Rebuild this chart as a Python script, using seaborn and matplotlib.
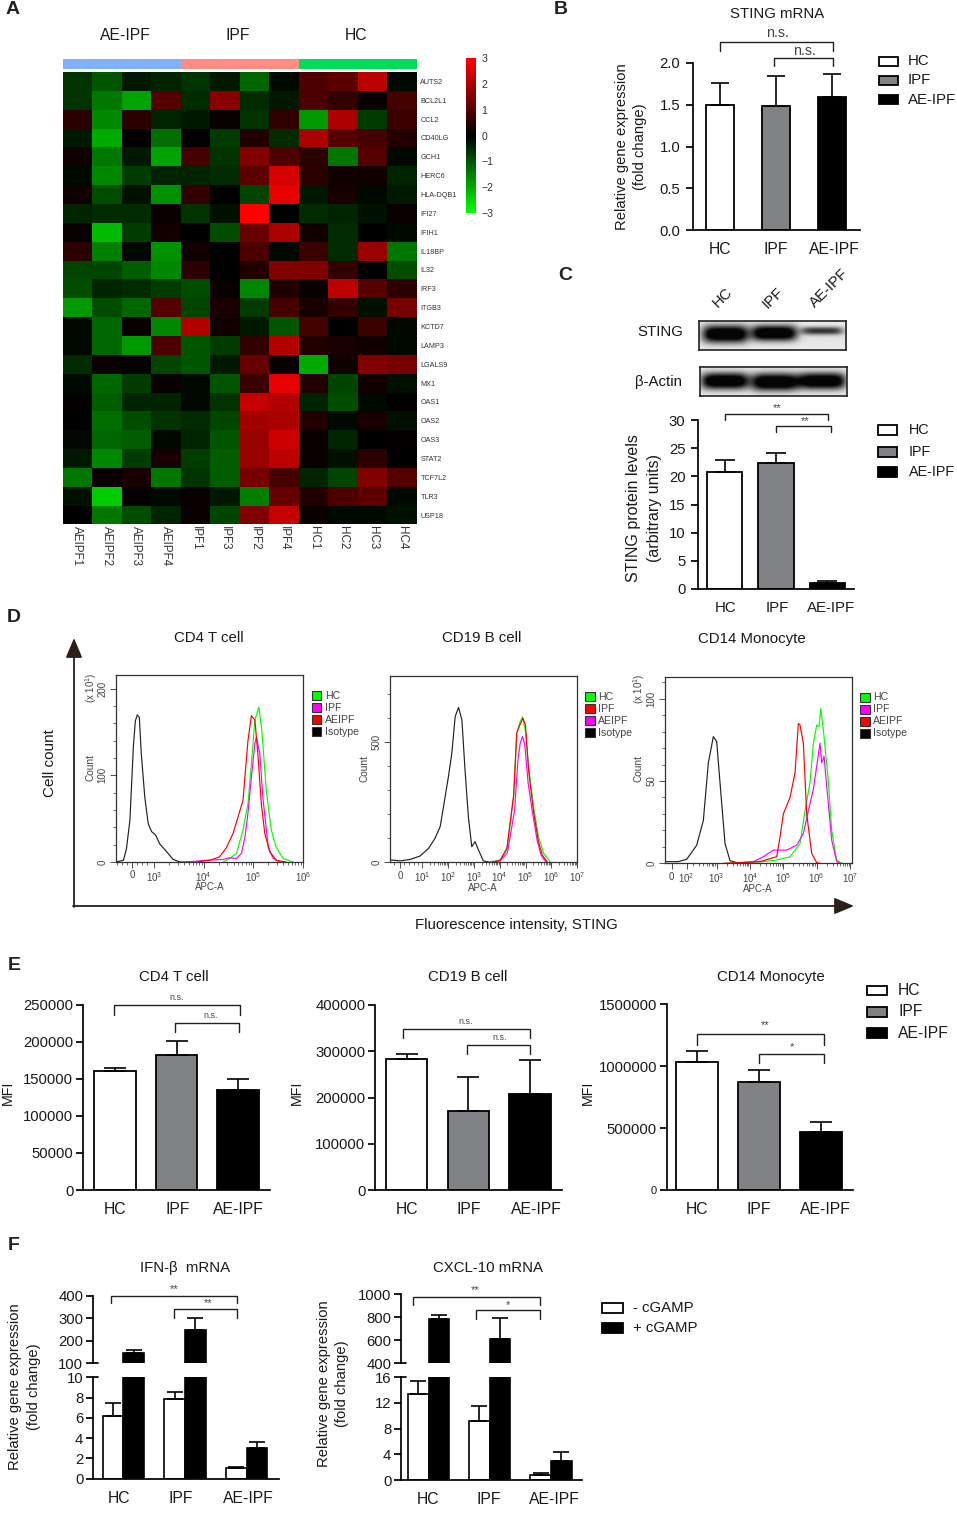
import numpy as np
import pandas as pd
import matplotlib
matplotlib.use("Agg")
import matplotlib.pyplot as plt
from matplotlib.colors import LinearSegmentedColormap, ListedColormap
from matplotlib.patches import Rectangle
from matplotlib.transforms import ScaledTranslation
import seaborn as sns

W, H = 957, 1514

# panel A
GENES = ["AUTS2", "BCL2L1", "CCL2", "CD40LG", "GCH1", "HERC6", "HLA-DQB1", "IFI27", "IFIH1", "IL18BP", "IL32", "IRF3",
         "ITGB3", "KCTD7", "LAMP3", "LGALS9", "MX1", "OAS1", "OAS2", "OAS3", "STAT2", "TCF7L2", "TLR3", "USP18"]
SAMPLES = ["AEIPF1", "AEIPF2", "AEIPF3", "AEIPF4", "IPF1", "IPF3", "IPF2", "IPF4", "HC1", "HC2", "HC3", "HC4"]
SAMPLE_GROUP = [0, 0, 0, 0, 1, 1, 1, 1, 2, 2, 2, 2]
EXPR = [
    [-0.6, -1.0, -0.3, -0.4, -0.6, -0.3, -1.2, -0.1, 0.9, 1.1, 2.2, -0.1],
    [-0.6, -1.4, -1.9, 1.0, -0.5, 1.6, -0.5, -0.3, 0.9, 0.6, 0.1, 0.8],
    [0.5, -1.6, 0.5, -0.4, -0.3, 0.1, -0.6, 0.6, -1.8, 2.0, -0.7, 0.7],
    [-0.3, -2.0, 0.0, -1.3, 0.0, -0.7, 0.4, -0.5, 2.0, 1.0, 0.8, 0.4],
    [0.2, -1.4, -0.3, -1.9, 0.8, -0.6, 1.5, 0.9, 0.5, -1.4, 1.0, -0.1],
    [-0.1, -1.6, -0.7, -0.4, -0.4, -0.5, 1.1, 2.5, 0.5, 0.2, 0.2, -0.4],
    [0.2, -0.9, -0.2, -1.7, 0.6, 0.0, -0.8, 2.7, -0.3, 0.3, -0.1, -0.3],
    [-0.4, -0.5, -0.5, 0.1, -0.6, -0.2, 3.0, 0.0, -0.5, -0.4, -0.2, 0.1],
    [0.1, -2.2, -0.7, 0.2, 0.0, -0.9, 1.2, 2.0, 0.2, -0.5, 0.0, -0.1],
    [0.5, -1.5, -0.1, -1.7, 0.2, 0.0, 0.9, -0.1, 0.7, -0.5, 1.8, -1.4],
    [-0.8, -0.8, -1.1, -1.6, 0.5, 0.0, 0.4, 1.5, 1.5, 0.6, 0.0, -0.9],
    [-0.9, -0.4, -0.5, -0.7, -0.9, 0.1, -1.6, 0.4, 0.1, 2.2, 1.0, 0.5],
    [-1.8, -0.9, -1.2, 1.0, -0.8, 0.3, -0.7, 0.8, 0.3, 0.6, -0.2, 1.4],
    [-0.1, -1.2, 0.1, -1.6, 2.1, 0.2, -0.3, -1.0, 0.8, 0.0, 0.7, -0.1],
    [-0.1, -1.2, -1.8, 0.9, -1.0, -0.7, 0.6, 2.1, 0.4, 0.3, 0.2, -0.1],
    [-0.5, 0.1, 0.05, -0.8, -1.0, -0.3, 1.2, 0.1, -2.0, 0.2, 1.5, 1.4],
    [-0.1, -1.2, -0.7, 0.1, -0.1, -1.0, 0.7, 2.7, 0.4, -0.8, 0.2, -0.2],
    [0.05, -1.1, -0.4, -0.4, -0.1, -0.6, 2.3, 2.1, -0.4, -0.9, -0.1, 0.0],
    [0.0, -1.3, -0.9, -0.6, -0.5, -0.8, 1.9, 2.0, 0.4, -0.1, 0.3, -0.2],
    [-0.1, -1.2, -1.1, -0.1, -0.4, -1.0, 1.8, 2.4, 0.1, -0.4, 0.0, 0.05],
    [-0.3, -1.6, -0.7, 0.3, -0.7, -1.1, 1.8, 2.2, 0.1, -0.2, 0.5, 0.0],
    [-1.4, 0.1, 0.3, -1.4, -0.6, -1.1, 1.4, 0.8, -0.4, -0.8, 1.5, 1.0],
    [-0.2, -2.4, 0.05, -0.1, 0.1, -0.3, -1.5, 1.2, 0.4, 0.9, 1.1, -0.1],
    [0.0, -1.4, -0.9, -0.4, 0.1, -0.8, 1.5, 2.3, 0.1, -0.1, -0.1, -0.2],
]

# bar panels B, C, E
GROUPS = ["HC", "IPF", "AE-IPF"]
STING_MRNA = [1.5, 1.48, 1.59]
STING_MRNA_TOP = [1.76, 1.84, 1.87]
STING_PROT = [20.7, 22.4, 1.06]
STING_PROT_TOP = [22.9, 24.2, 1.36]
MFI_CD4 = [160000, 182000, 135000]
MFI_CD4_TOP = [164000, 201000, 149000]
MFI_CD19 = [283000, 170000, 207000]
MFI_CD19_TOP = [294000, 245000, 281000]
MFI_CD14 = [1032000, 873000, 470000]
MFI_CD14_TOP = [1123000, 968000, 551000]

# panel F
IFNB_MINUS = [6.2, 7.85, 1.05]
IFNB_MINUS_TOP = [7.45, 8.55, 1.2]
IFNB_PLUS = [145, 248, 3.05]
IFNB_PLUS_TOP = [160, 300, 3.6]
CXCL_MINUS = [13.4, 9.2, 0.85]
CXCL_MINUS_TOP = [15.4, 11.5, 1.05]
CXCL_PLUS = [785, 615, 2.95]
CXCL_PLUS_TOP = [820, 795, 4.4]

# panel D, x is in decades of the display axis
CD4_ISO_X = [2.23, 2.38, 2.44, 2.51, 2.58, 2.62, 2.66, 2.70, 2.74, 2.81, 2.88, 2.95, 3.03, 3.11, 3.25, 3.38, 3.52, 3.72]
CD4_ISO_Y = [0, 2, 15, 48, 133, 163, 170, 167, 125, 75, 44, 35, 31, 21, 12, 3, 0, 0]
CD4_HC_X = [4.39, 4.52, 4.66, 4.79, 4.89, 4.96, 5.03, 5.11, 5.17, 5.26, 5.36, 5.46, 5.6, 5.8]
CD4_HC_Y = [0, 4, 10, 37, 67, 114, 164, 179, 152, 83, 37, 17, 4, 0]
CD4_IPF_X = [3.65, 4.05, 4.39, 4.52, 4.66, 4.76, 4.83, 4.89, 4.96, 5.03, 5.06, 5.13, 5.19, 5.30, 5.40, 5.53]
CD4_IPF_Y = [0, 2, 3, 5, 4, 10, 29, 56, 98, 137, 144, 125, 75, 17, 4, 0]
CD4_AE_X = [3.85, 4.12, 4.32, 4.46, 4.59, 4.69, 4.79, 4.89, 4.96, 5.03, 5.09, 5.16, 5.23, 5.33, 5.46, 5.66]
CD4_AE_Y = [0, 2, 6, 17, 33, 52, 71, 140, 169, 164, 125, 67, 33, 12, 2, 0]

CD19_ISO_X = [-0.24, -0.23, 0.15, 0.54, 0.92, 1.25, 1.5, 1.7, 1.83, 2.02, 2.15, 2.28, 2.41, 2.54, 2.66, 2.79, 2.92, 3.05, 3.18, 3.37, 3.63]
CD19_ISO_Y = [370, 10, 6, 12, 26, 58, 100, 149, 233, 358, 455, 608, 646, 593, 385, 190, 65, 86, 51, 6, 0]
CD19_HC_X = [3.63, 4.02, 4.28, 4.54, 4.66, 4.79, 4.88, 4.99, 5.12, 5.31, 5.5, 5.7, 5.95]
CD19_HC_Y = [0, 10, 51, 274, 537, 586, 607, 551, 399, 232, 107, 37, 3]
CD19_IPF_X = [3.63, 4.02, 4.28, 4.54, 4.66, 4.79, 4.9, 5.0, 5.12, 5.31, 5.5, 5.65, 5.85]
CD19_IPF_Y = [0, 8, 60, 280, 540, 575, 600, 570, 380, 210, 85, 30, 0]
CD19_AE_X = [3.7, 4.02, 4.3, 4.58, 4.7, 4.79, 4.88, 4.97, 5.1, 5.25, 5.45, 5.6, 5.8]
CD19_AE_Y = [0, 6, 40, 220, 420, 495, 525, 490, 330, 220, 90, 30, 0]

CD14_ISO_X = [1.45, 1.46, 1.85, 2.1, 2.4, 2.6, 2.75, 2.9, 3.0, 3.1, 3.25, 3.4, 3.6, 4.1]
CD14_ISO_Y = [7, 1, 1, 2.4, 11, 26, 61, 77, 74, 49, 12, 1.6, 0.4, 0]
CD14_HC_X = [3.3, 4.4, 4.8, 5.2, 5.5, 5.65, 5.8, 5.9, 6.0, 6.07, 6.12, 6.2, 6.35, 6.45, 6.6, 6.75]
CD14_HC_Y = [0, 1, 2, 4, 12, 32, 49, 73, 84, 83, 94, 81, 50, 20, 2, 0]
CD14_IPF_X = [3.5, 4.1, 4.4, 4.7, 5.1, 5.4, 5.6, 5.75, 5.9, 6.0, 6.1, 6.15, 6.22, 6.35, 6.45, 6.6, 6.7]
CD14_IPF_Y = [0, 1, 4, 8, 8, 11, 18, 32, 45, 59, 73, 61, 65, 36, 14, 1, 0]
CD14_AE_X = [3.2, 4.3, 4.8, 4.9, 5.0, 5.2, 5.35, 5.45, 5.5, 5.6, 5.7, 5.85, 6.0, 6.1]
CD14_AE_Y = [0, 1, 4, 16, 30, 40, 55, 85, 84, 73, 30, 6, 0.4, 0]

GREEN, MAGENTA, RED = "#00ff00", "#ff00ff", "#ff0000"
BAR_COLORS = {"HC": "white", "IPF": "#808285", "AE-IPF": "black"}
INK = "#1a1a1a"

sns.set_theme(style="white")
plt.rcParams["font.family"] = ["Liberation Sans", "DejaVu Sans"]
plt.rcParams["mathtext.default"] = "regular"

fig = plt.figure(figsize=(W / 100, H / 100), dpi=100, facecolor="white")


def px_axes(x0, y0, x1, y1, **kw):
    return fig.add_axes([x0 / W, 1 - y1 / H, (x1 - x0) / W, (y1 - y0) / H], **kw)


over = px_axes(0, 0, W, H, zorder=20)
over.set_xlim(0, W)
over.set_ylim(H, 0)
over.axis("off")
over.patch.set_alpha(0)


def txt(x, y, s, size=11, rot=0, color=INK, **kw):
    kw.setdefault("ha", "center")
    kw.setdefault("va", "center")
    over.text(x, y, s, fontsize=size, rotation=rot, color=color, **kw)


def ylabel2(x, y, s, size):
    txt(x, y, s, size=size, rot=90, linespacing=1.42, multialignment="center")


def bracket(x0, x1, y, tip0, tip1, label, lx, ly, size):
    over.plot([x0, x0, x1, x1], [tip0, y, y, tip1], color="#222222", lw=1.0)
    txt(lx, ly, label, size=size, color="#444444")


def legend_boxes(x0, x1, rows, tx, size):
    for (y0, y1, name) in rows:
        over.add_patch(Rectangle((x0, y0), x1 - x0, y1 - y0, fc=BAR_COLORS[name], ec="black", lw=1.3))
        txt(tx, (y0 + y1) / 2, name, size=size, ha="left")


def shift_labels(ax, shifts):
    for lab, dx in zip(ax.get_xticklabels(), shifts):
        lab.set_transform(lab.get_transform() + ScaledTranslation(dx / 100, 0, fig.dpi_scale_trans))


def style_bar_axes(ax, rect, centers, ymax, yticks):
    spacing = (centers[2] - centers[0]) / 2
    ax.set_xlim((rect[0] - centers[0]) / spacing, (rect[2] - centers[0]) / spacing)
    ax.set_ylim(0, ymax)
    ax.set_yticks(yticks, labels=[str(t) for t in yticks])
    sns.despine(ax=ax)
    for side in ("left", "bottom"):
        ax.spines[side].set_linewidth(1.25)
        ax.spines[side].set_color("black")
    ax.tick_params(axis="y", length=5, width=1.25, color="black", labelsize=10.7, pad=2, left=True, labelcolor=INK)
    ax.tick_params(axis="x", length=0, labelsize=11.3, pad=9, labelcolor=INK)
    ax.set_xlabel("")
    ax.set_ylabel("")
    ax.patch.set_alpha(0)


def bar_panel(rect, centers, values, tops, ymax, yticks, width, cap):
    ax = px_axes(*rect)
    df = pd.DataFrame({"group": GROUPS, "value": values})
    sns.barplot(data=df, x="group", y="value", hue="group", palette=BAR_COLORS, order=GROUPS, width=width,
                saturation=1, edgecolor="black", linewidth=1.3, errorbar=None, legend=False, ax=ax)
    vals = np.array(values, dtype=float)
    ax.errorbar(range(3), vals, yerr=[np.zeros(3), np.array(tops) - vals], fmt="none", ecolor="black",
                elinewidth=1.2, capsize=cap, capthick=1.2, zorder=1)
    style_bar_axes(ax, rect, centers, ymax, yticks)
    return ax


def cgamp_bars(ax, minus, minus_top, plus, plus_top, cap):
    df = pd.DataFrame({"group": GROUPS * 2, "stim": ["- cGAMP"] * 3 + ["+ cGAMP"] * 3, "value": minus + plus})
    sns.barplot(data=df, x="group", y="value", hue="stim", order=GROUPS, palette={"- cGAMP": "white", "+ cGAMP": "black"},
                width=0.67, gap=0, saturation=1, edgecolor="black", linewidth=1.2, errorbar=None, legend=False, ax=ax)
    for cont, vals, tops in zip(ax.containers, (minus, plus), (minus_top, plus_top)):
        xs = [b.get_x() + b.get_width() / 2 for b in cont]
        vals = np.array(vals, dtype=float)
        ax.errorbar(xs, vals, yerr=[np.zeros(3), np.array(tops) - vals], fmt="none", ecolor="black",
                    elinewidth=1.2, capsize=cap, capthick=1.2, zorder=1)


def broken_panel(x0, x1, base, lo_top, hi_bot, hi_top, centers, lo_max, lo_ticks, hi_lim, hi_ticks, data):
    lower = px_axes(x0, lo_top, x1, base)
    cgamp_bars(lower, *data, 5.5)
    style_bar_axes(lower, (x0, lo_top, x1, base), centers, lo_max, lo_ticks)
    upper = px_axes(x0, hi_top, x1, hi_bot)
    cgamp_bars(upper, *data, 5.5)
    style_bar_axes(upper, (x0, hi_top, x1, hi_bot), centers, hi_lim[1], hi_ticks)
    upper.set_ylim(*hi_lim)
    upper.spines["bottom"].set_visible(False)
    upper.tick_params(axis="x", labelbottom=False)
    over.plot([x0, x0 + 5], [lo_top, lo_top], color="black", lw=1.25)
    over.plot([x0, x0 + 5], [hi_bot, hi_bot], color="black", lw=1.25)
    return lower


def blot(x0, y0, x1, y1, bands):
    ax = px_axes(x0, y0, x1, y1)
    xx, yy = np.meshgrid(np.linspace(x0, x1, 300), np.linspace(y0, y1, 80))
    img = 0.88 + 0.05 * np.abs(yy - (y0 + y1) / 2) / ((y1 - y0) / 2)
    for xc, hw, yc, hh, strength in bands:
        img = img - strength * np.exp(-np.abs((xx - xc) / hw) ** 5) * np.exp(-np.abs((yy - yc) / hh) ** 2.4)
    ax.imshow(np.clip(img, 0.02, 1), cmap="gray", vmin=0, vmax=1, aspect="auto", interpolation="bilinear")
    ax.set_xticks([])
    ax.set_yticks([])
    for sp in ax.spines.values():
        sp.set_visible(True)
        sp.set_color("#222222")
        sp.set_linewidth(1.2)


def flow_panel(rect, ymax, curves, xticks, xlabels, minor_x, yticks, minor_y):
    ax = px_axes(*rect)
    for xs, ys, color in curves:
        sns.lineplot(x=xs, y=ys, color=color, lw=0.85, estimator=None, sort=False, ax=ax)
    ax.set_ylim(0, ymax)
    ax.set_xticks(xticks)
    ax.set_xticklabels(xlabels)
    ax.set_xticks(minor_x, minor=True)
    ax.set_yticks(yticks)
    ax.set_yticklabels([str(t) for t in yticks], rotation=90, va="center")
    ax.set_yticks(minor_y, minor=True)
    ax.tick_params(axis="both", which="major", bottom=True, left=True, length=4.5, width=0.6, color="#333333",
                   labelsize=7, labelcolor="#444444", pad=1.5)
    ax.tick_params(axis="both", which="minor", bottom=True, left=True, length=2.5, width=0.5, color="#333333")
    for sp in ax.spines.values():
        sp.set_visible(True)
        sp.set_color("#333333")
        sp.set_linewidth(0.9)
    ax.patch.set_alpha(0)
    return ax


def decade_minor(first, last):
    return [d + np.log10(k) for d in range(first, last) for k in range(2, 10)]


def flow_legend(x0, x1, y0, names, colors, tx):
    for i, (name, color) in enumerate(zip(names, colors)):
        top = y0 + i * 12
        over.add_patch(Rectangle((x0, top), x1 - x0, 9.3, fc=color, ec="#333333", lw=0.8))
        txt(tx, top + 5, name, size=7.6, ha="left", color="#444444")


# A: heatmap, annotation strip and colour bar
gyr = LinearSegmentedColormap.from_list("gbr", ["#00ff00", "#000000", "#ff0000"])
heat_df = pd.DataFrame(EXPR, index=GENES, columns=SAMPLES)
ax_heat = px_axes(62.5, 72, 417, 524.5)
ax_cbar = px_axes(466, 58, 476, 213)
sns.heatmap(heat_df, cmap=gyr, vmin=-3, vmax=3, ax=ax_heat, cbar_ax=ax_cbar, xticklabels=True, yticklabels=True)
ax_heat.yaxis.tick_right()
ax_heat.tick_params(axis="y", length=0, labelsize=5.2, pad=2.5, labelrotation=0, labelcolor="#333333")
ax_heat.tick_params(axis="x", length=0, labelsize=8.4, pad=1, labelrotation=270, labelcolor="#333333")
ax_cbar.set_yticks([-3, -2, -1, 0, 1, 2, 3])
ax_cbar.tick_params(length=0, labelsize=7.6, pad=4, labelcolor="#333333")
ax_heat.collections[0].colorbar.outline.set_visible(False)

ax_strip = px_axes(62.5, 59, 417, 69.3)
sns.heatmap([SAMPLE_GROUP], cmap=ListedColormap(["#80b1ff", "#ff8c85", "#00dc55"]), cbar=False, ax=ax_strip,
            xticklabels=False, yticklabels=False)
txt(125, 36, "AE-IPF", size=11.3)
txt(238, 36, "IPF", size=11.3)
txt(356, 36, "HC", size=11.3)

# B
ax_b = bar_panel((692.7, 63, 860, 230), (720, 776, 831.7), STING_MRNA, STING_MRNA_TOP, 2.0, [0, 0.5, 1, 1.5, 2], 0.505, 6.7)
ax_b.set_yticklabels(["0.0", "0.5", "1.0", "1.5", "2.0"])
ax_b.tick_params(axis="y", pad=4)
shift_labels(ax_b, [0, 0, 2.5])
txt(777, 13.5, "STING mRNA", size=10.8)
ylabel2(631, 147, "Relative gene expression\n(fold change)", 10.6)
bracket(720, 833, 41.7, 50.7, 50.7, "n.s.", 777.7, 33, 10.3)
bracket(774, 833, 58, 66, 66, "n.s.", 804, 51, 10.3)
legend_boxes(879, 898, [(56.7, 66, "HC"), (76, 85, "IPF"), (95, 104, "AE-IPF")], 908, 10.8)

# C
blot(699, 321, 846, 350, [(725.3, 23, 334, 9, 1.1), (773.7, 23, 333, 8, 1.1), (821.3, 21, 330.7, 4, 0.7)])
blot(700, 367, 847, 396, [(725, 24, 381, 8.5, 1.1), (775, 24, 382, 9, 1.1), (822, 24, 381, 8.5, 1.1)])
txt(723, 298, "HC", size=10.8, rot=45)
txt(773, 298, "IPF", size=10.8, rot=45)
txt(829, 288, "AE-IPF", size=10.8, rot=45)
txt(660, 332, "STING", size=10.8)
txt(659, 382, "β-Actin", size=10.8)
ax_c = bar_panel((698, 420, 854, 589), (724.5, 776, 827.5), STING_PROT, STING_PROT_TOP, 30, [0, 5, 10, 15, 20, 25, 30], 0.68, 7)
ax_c.tick_params(axis="y", pad=4)
ax_c.tick_params(axis="x", labelsize=10.8)
shift_labels(ax_c, [1.5, 1, 3.5])
ylabel2(644, 508, "STING protein levels\n(arbitrary units)", 11.5)
bracket(725, 828, 414, 420, 420, "**", 777, 408, 8)
bracket(776, 831, 426, 432, 432, "**", 805, 421, 8)
legend_boxes(878, 897, [(425, 435, "HC"), (447, 457, "IPF"), (467, 477, "AE-IPF")], 909, 10.4)

# D
flow_panel((116, 675, 303, 862), 216,
           [(CD4_ISO_X, CD4_ISO_Y, "#222222"), (CD4_HC_X, CD4_HC_Y, GREEN), (CD4_IPF_X, CD4_IPF_Y, MAGENTA), (CD4_AE_X, CD4_AE_Y, RED)],
           [2.55, 3.0, 4, 5, 6], ["0", "$10^{3}$", "$10^{4}$", "$10^{5}$", "$10^{6}$"],
           decade_minor(3, 6) + [2.25, 2.35, 2.45, 2.65, 2.75, 2.85], [0, 100, 200], list(range(20, 216, 20))).set_xlim(2.23, 6.0)
flow_panel((390, 675.7, 577.3, 862.3), 778,
           [(CD19_ISO_X, CD19_ISO_Y, "#222222"), (CD19_HC_X, CD19_HC_Y, GREEN), (CD19_AE_X, CD19_AE_Y, MAGENTA), (CD19_IPF_X, CD19_IPF_Y, RED)],
           [0.15, 1, 2, 3, 4, 5, 6, 7], ["0", "$10^{1}$", "$10^{2}$", "$10^{3}$", "$10^{4}$", "$10^{5}$", "$10^{6}$", "$10^{7}$"],
           decade_minor(1, 7) + [-0.1, 0.3, 0.5, 0.7, 0.85], [0, 500], list(range(100, 778, 100))).set_xlim(-0.24, 7.0)
flow_panel((665, 676.7, 851.7, 863.3), 113.4,
           [(CD14_ISO_X, CD14_ISO_Y, "#222222"), (CD14_HC_X, CD14_HC_Y, GREEN), (CD14_IPF_X, CD14_IPF_Y, MAGENTA), (CD14_AE_X, CD14_AE_Y, RED)],
           [1.65, 2.1, 3, 4, 5, 6, 7], ["0", "$10^{2}$", "$10^{3}$", "$10^{4}$", "$10^{5}$", "$10^{6}$", "$10^{7}$"],
           decade_minor(2, 7), [0, 50, 100], list(range(10, 113, 10))).set_xlim(1.45, 7.05)

over.annotate("", xy=(74, 638), xytext=(74, 907), arrowprops=dict(arrowstyle="-|>,head_length=1.0,head_width=0.42", color="#2b1f1b", lw=1.3, shrinkA=0, shrinkB=0))
over.annotate("", xy=(854, 906), xytext=(73, 906), arrowprops=dict(arrowstyle="-|>,head_length=1.0,head_width=0.42", color="#2b1f1b", lw=1.3, shrinkA=0, shrinkB=0))
txt(50, 763, "Cell count", size=11, rot=90)
txt(516, 925.5, "Fluorescence intensity, STING", size=10.8)
txt(209, 638.5, "CD4 T cell", size=10.8)
txt(482, 638.5, "CD19 B cell", size=10.8)
txt(752, 638.5, "CD14 Monocyte", size=10.8)
for x, y in ((209.7, 887), (483, 888), (758, 889)):
    txt(x, y, "APC-A", size=7, color="#444444")
for x, y in ((90, 767.7), (364, 768), (638, 769)):
    txt(x, y, "Count", size=7.3, rot=90, color="#444444")
for x, y in ((90.7, 688), (639, 689)):
    txt(x, y, "(x 10$^{1}$)", size=7, rot=90, color="#444444")
flow_legend(311.7, 321, 691, ["HC", "IPF", "AEIPF", "Isotype"], [GREEN, MAGENTA, RED, "black"], 324.7)
flow_legend(585, 595, 692, ["HC", "IPF", "AEIPF", "Isotype"], [GREEN, RED, MAGENTA, "black"], 598)
flow_legend(860, 870, 692.5, ["HC", "IPF", "AEIPF", "Isotype"], [GREEN, MAGENTA, RED, "black"], 873)

# E
ax_e1 = bar_panel((83, 1004.5, 270, 1190), (115, 176.7, 238), MFI_CD4, MFI_CD4_TOP, 250000, list(range(0, 250001, 50000)), 0.678, 8)
shift_labels(ax_e1, [0, 1.5, 0])
txt(174, 977, "CD4 T cell", size=10.8)
txt(8, 1093, "MFI", size=10.3, rot=90)
bracket(114, 240, 1005.3, 1015, 1015, "n.s.", 177, 998, 6.4)
bracket(175, 239, 1023, 1032, 1032, "n.s.", 211, 1016, 6.4)

ax_e2 = bar_panel((375, 1005, 562, 1190), (406.5, 468.5, 530), MFI_CD19, MFI_CD19_TOP, 400000, list(range(0, 400001, 100000)), 0.67, 8)
shift_labels(ax_e2, [0.5, 0.5, 6])
txt(468, 977, "CD19 B cell", size=10.8)
txt(297, 1093, "MFI", size=10.3, rot=90)
bracket(403, 530, 1029, 1038, 1038, "n.s.", 466, 1021.7, 6.4)
bracket(467, 530, 1045, 1054, 1054, "n.s.", 500, 1038, 6.4)

ax_e3 = bar_panel((666.7, 1004, 853, 1190), (697, 759.5, 821), MFI_CD14, MFI_CD14_TOP, 1500000, [0, 500000, 1000000, 1500000], 0.67, 8)
ax_e3.get_yticklabels()[0].set_fontsize(8)
shift_labels(ax_e3, [0, 0, 4])
txt(771, 977, "CD14 Monocyte", size=10.8)
txt(588, 1093, "MFI", size=10.3, rot=90)
bracket(697, 824, 1034, 1045, 1045, "**", 765, 1025, 8)
bracket(759, 824, 1054, 1063, 1063, "*", 792, 1047, 8)
legend_boxes(866.7, 887, [(986, 995, "HC"), (1007, 1017, "IPF"), (1028, 1038, "AE-IPF")], 898, 11.3)

# F
ax_f1 = broken_panel(93, 279, 1478.7, 1377.3, 1363.3, 1295.7, (123.3, 185, 246.7), 10, [0, 2, 4, 6, 8, 10],
                     (100, 400), [100, 200, 300, 400], (IFNB_MINUS, IFNB_MINUS_TOP, IFNB_PLUS, IFNB_PLUS_TOP))
shift_labels(ax_f1, [-4, -4, 1.5])
txt(185, 1268, "IFN-β  mRNA", size=10.8)
ylabel2(24.5, 1387, "Relative gene expression\n(fold change)", 10.6)
bracket(110.7, 237, 1295.7, 1303, 1303, "**", 174, 1289, 8)
bracket(174, 237, 1309, 1318, 1318, "**", 208, 1303.5, 8)

ax_f2 = broken_panel(401, 581.7, 1480, 1377.3, 1363.3, 1294.3, (428.5, 490, 551), 16, [0, 4, 8, 12, 16],
                     (400, 1000), [400, 600, 800, 1000], (CXCL_MINUS, CXCL_MINUS_TOP, CXCL_PLUS, CXCL_PLUS_TOP))
shift_labels(ax_f2, [0, -1, 3])
txt(488, 1268, "CXCL-10 mRNA", size=10.8)
ylabel2(333, 1384, "Relative gene expression\n(fold change)", 10.6)
bracket(413, 540, 1296.7, 1305, 1305, "**", 475, 1290, 8)
bracket(475.7, 540, 1310, 1319, 1319, "*", 508, 1305.5, 8)

over.add_patch(Rectangle((602, 1303), 21, 9.5, fc="white", ec="black", lw=1.3))
over.add_patch(Rectangle((602, 1323), 21, 10, fc="black", ec="black", lw=1.3))
txt(633, 1307.5, "- cGAMP", size=10.8, ha="left")
txt(633, 1328, "+ cGAMP", size=10.8, ha="left")

# panel letters
for x, y, letter in ((13, 10, "A"), (561, 10, "B"), (565, 275, "C"), (14, 618, "D"), (14, 965, "E"), (14, 1246, "F")):
    txt(x, y, letter, size=14, weight="bold", color="#222222")

fig.savefig("out.png", dpi=100)
